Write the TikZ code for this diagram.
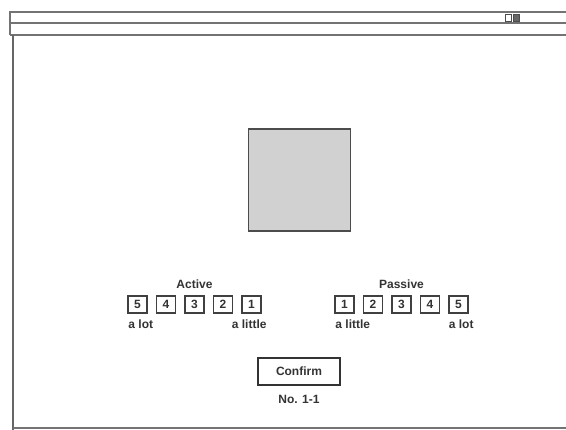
\documentclass[tikz,border=0pt]{standalone}
\usepackage{fontspec}
\setmainfont{Liberation Sans}
\usetikzlibrary{positioning}

\begin{document}
\begin{tikzpicture}[
    x=1pt,
    y=-1pt,
    node distance=8pt and 8pt,
    font=\fontsize{12}{14}\selectfont\bfseries,
    text=black!80,
    text centered
  ]

  \tikzstyle{frame} = [draw=black!55, line width=1.1pt]
  \tikzstyle{num} = [rectangle, draw=black!75, line width=1.5pt, minimum width=19pt, minimum height=17pt, inner sep=0pt]
  \tikzstyle{lbl} = [inner sep=1pt]
  \tikzstyle{stim} = [rectangle, draw=black!70, line width=1.5pt, fill=black!18, minimum size=102pt]
  \tikzstyle{button} = [rectangle, draw=black!80, line width=1.5pt, minimum width=82pt, minimum height=27pt]

  \useasboundingbox (0,0) rectangle (566,430);

  % window frame
  \draw[frame] (566,12) -- (10,12) -- (10,35);
  \draw[frame] (10,23) -- (566,23);
  \draw[frame] (10,35) -- (566,35);
  \draw[draw=black!60, line width=2.6pt] (13,35) -- (13,430);
  \draw[frame] (13,428) -- (566,428);
  \draw[draw=black!70, fill=white, line width=0.9pt] (505,14) rectangle (511,21);
  \draw[draw=black!70, fill=black!60, line width=0.9pt] (513,14) rectangle (519,21);

  \node [stim] (stimulus) at (299.5,180) {};

  % active scale
  \node [num] (act5) at (137.5,304.5) {5};
  \node [num, right=of act5] (act4) {4};
  \node [num, right=of act4] (act3) {3};
  \node [num, right=of act3] (act2) {2};
  \node [num, right=of act2] (act1) {1};
  \node [lbl, above=5pt of act3] (active) {Active};
  \node [lbl, below=5pt of act5.south west, anchor=north west] (actlot) {a lot};
  \node [lbl, below=5pt of act1.south east, anchor=north east, xshift=6pt] (actlittle) {a little};

  % passive scale
  \node [num] (pas1) at (344.5,304.5) {1};
  \node [num, right=of pas1] (pas2) {2};
  \node [num, right=of pas2] (pas3) {3};
  \node [num, right=of pas3] (pas4) {4};
  \node [num, right=of pas4] (pas5) {5};
  \node [lbl, above=5pt of pas3] (passive) {Passive};
  \node [lbl, below=5pt of pas1.south west, anchor=north west] (paslittle) {a little};
  \node [lbl, below=5pt of pas5.south east, anchor=north east, xshift=6pt] (paslot) {a lot};

  \node [button] (confirm) at (299,371.5) {Confirm};
  \node [lbl, below=8pt of confirm] (trial) {No. 1-1};

\end{tikzpicture}
\end{document}
